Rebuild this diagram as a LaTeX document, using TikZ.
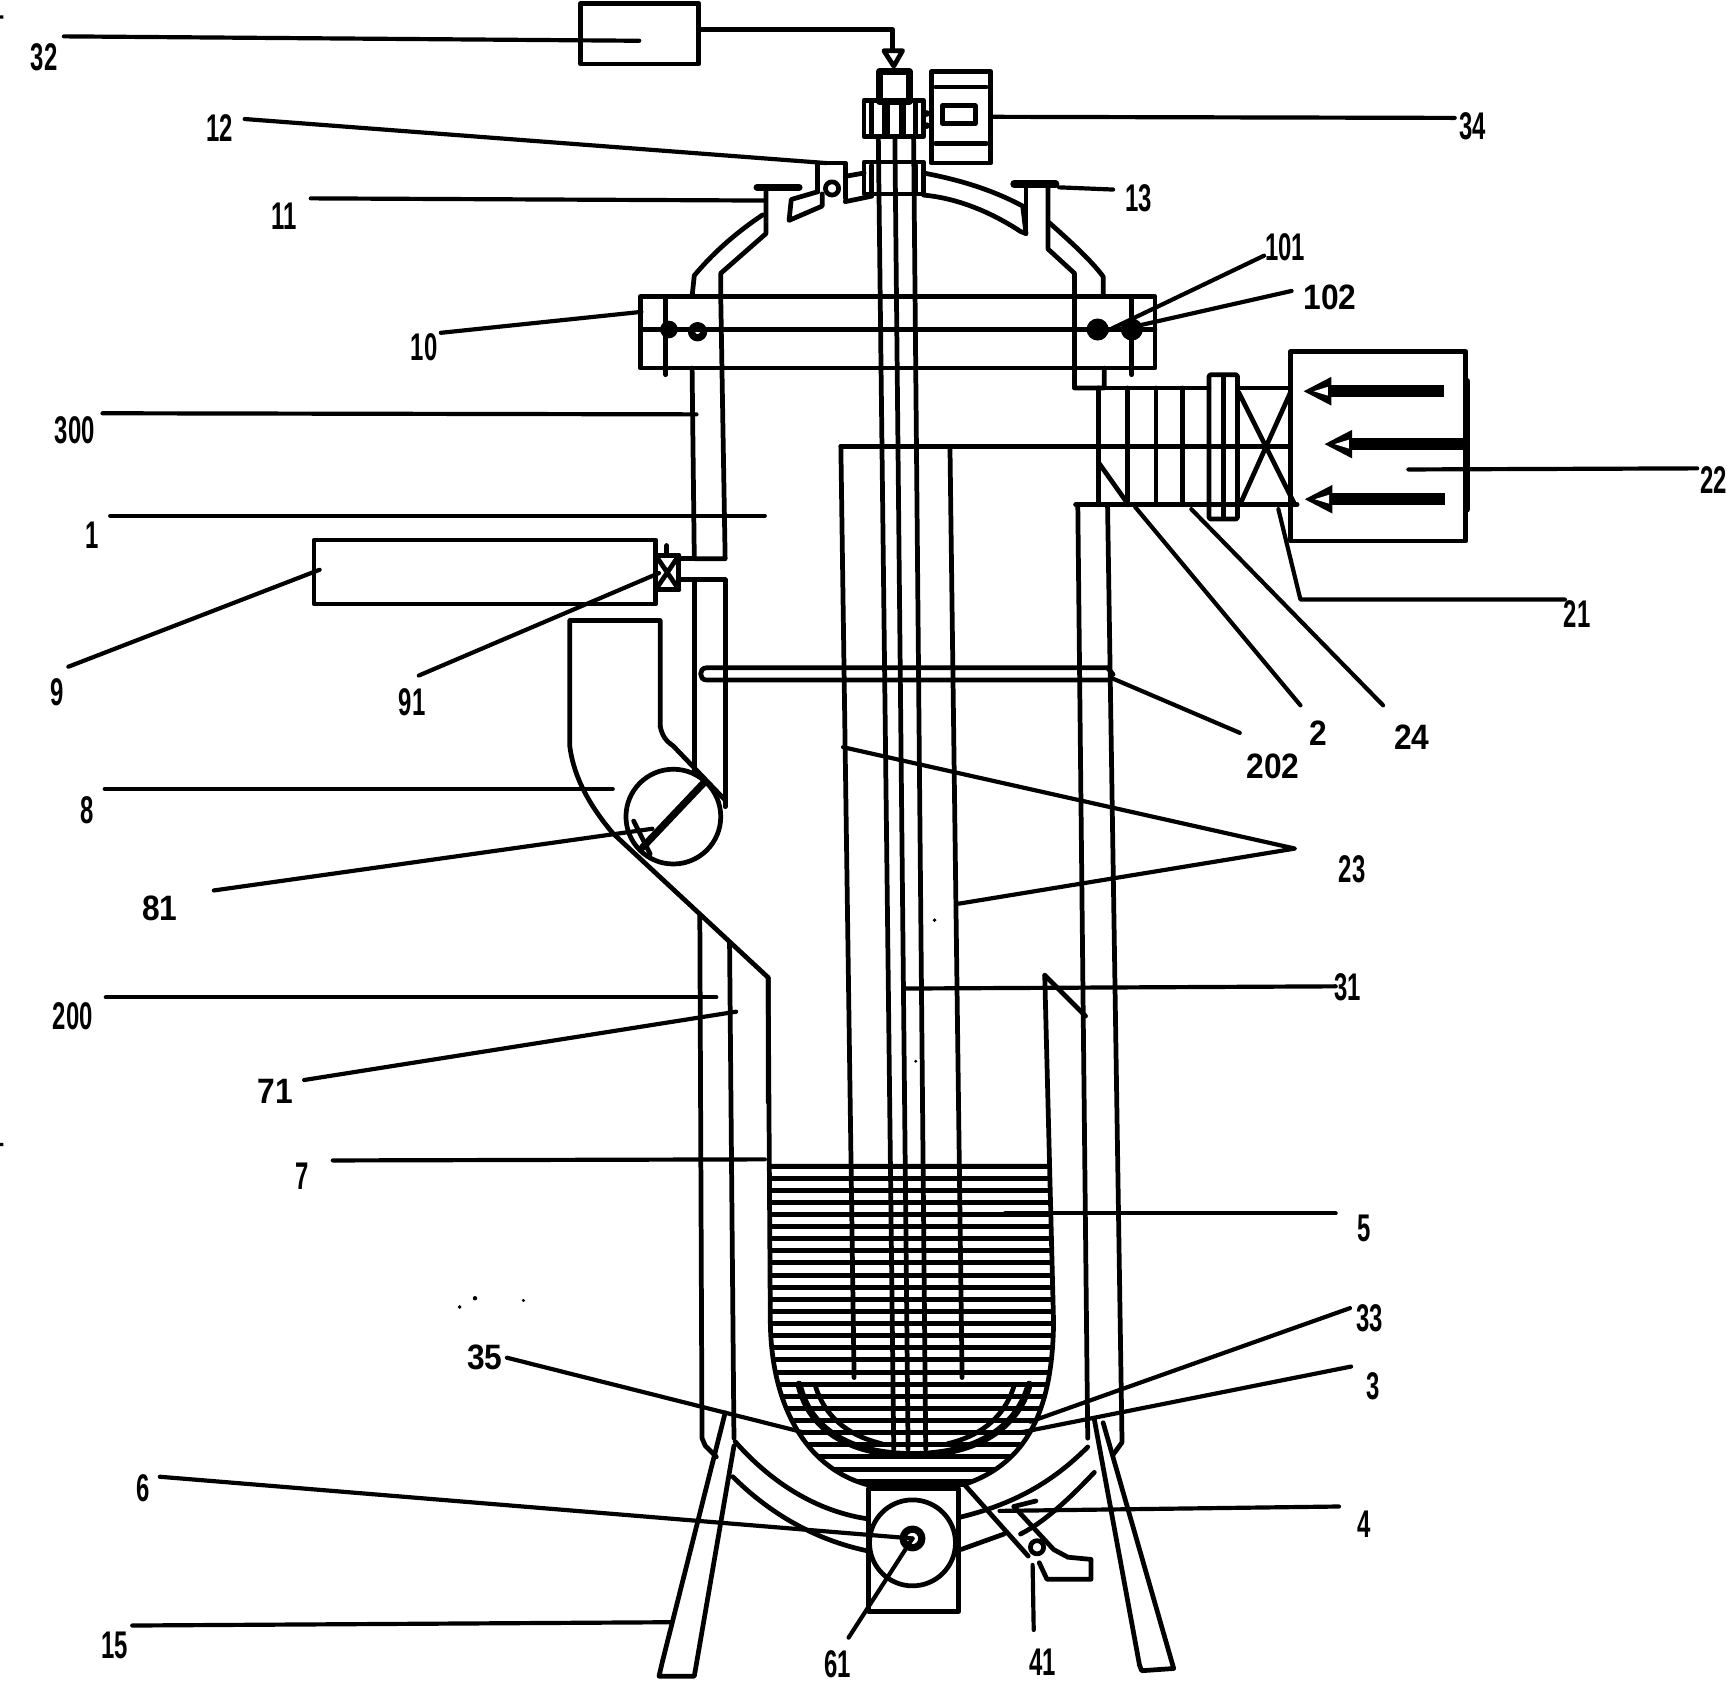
\documentclass[tikz,border=0pt]{standalone}
\usepackage{fontspec}
\setmainfont{Liberation Sans}
\tikzset{
  ln/.style={line width=4.3pt,line cap=round,line join=round,black},
  thk/.style={line width=6.5pt,line cap=round,line join=round,black},
  thin/.style={line width=3.6pt,line cap=round,line join=round,black},
  leader/.style={line width=3.8pt,line cap=round,line join=round,black},
  narrowlab/.style={font=\fontsize{35}{35}\bfseries,xscale=.62,inner sep=0pt},
  widelab/.style={font=\fontsize{32}{32}\bfseries,xscale=.9,inner sep=0pt},
}
\newcommand{\lead}[6]{% style, name, label pos, text, start, end
  \node[#1] (l#2) at (#3) {#4};
  \coordinate (s#2) at (#5);
  \coordinate (e#2) at (#6);
  \draw[leader] (s#2) -- (e#2);
}
\newcommand{\bigarrow}[4]{% tip x, y, base x, tail x
  \fill[black] (#1-2,#2) -- (#3+2,#2-13) -- (#3+2,#2+13) -- cycle;
  \draw[line width=10.5pt,black] (#3,#2) -- (#4,#2);
  \fill[white] (#1+7,#2) -- (#3-1,#2-4) -- (#3-1,#2+4) -- cycle;
}
\begin{document}
\begin{tikzpicture}[x=1pt,y=-1pt]
\useasboundingbox (0,0) rectangle (1568,1525);
\fill[white] (0,0) rectangle (1568,1525);

% --- liquid ---
\begin{scope}
\clip (697,1056) -- (699,1200) .. controls (700,1280) and (735,1335) .. (790,1348) -- (875,1347) .. controls (925,1330) and (955,1290) .. (956,1200) -- (952,1056) -- cycle;
\foreach \yy in {1058,1069,...,1350} \draw[line width=4.6pt,black] (690,\yy) -- (965,\yy);
\end{scope}

% --- inner vessel 7 ---
\draw[ln] (697,887) -- (699,1200) .. controls (700,1280) and (735,1335) .. (790,1348) -- (875,1347) .. controls (925,1330) and (955,1290) .. (956,1200) -- (948,885);
\draw[ln] (948,885) -- (985,922);

% --- central pipes ---
\draw[ln] (763,405) -- (775,1250);
\draw[ln] (862,405) -- (873,1250);
\draw[ln] (797,125) -- (811,1315);
\draw[ln] (812,125) -- (824,1315);
\draw[ln] (829,125) -- (840,1315);
\draw[ln] (763,405) -- (1171,405);

% --- ring 33/35 ---
\draw[thk] (725,1256) .. controls (735,1300) and (775,1320) .. (828,1320) .. controls (880,1320) and (922,1300) .. (934,1256);
\draw[ln] (740,1258) .. controls (750,1290) and (775,1304) .. (800,1310);
\draw[ln] (920,1258) .. controls (910,1290) and (885,1304) .. (860,1310);

% --- top: box 32 and feed ---
\draw[ln] (527,3) rectangle (634,58);
\draw[ln] (634,27) -- (810,27) -- (810,45);
\draw[ln] (802,46) -- (819,46) -- (811,60) -- cycle;
\draw[thk] (798,65) rectangle (825,92);
\draw[ln] (784,91) rectangle (838,124);
\draw[ln] (791,93) -- (791,122) (831,93) -- (831,122);
\draw[thk] (804,92) -- (804,122) (819,92) -- (819,122);
\draw[ln] (784,147) rectangle (838,176);
\draw[ln] (791,150) -- (791,174) (831,150) -- (831,174);

% --- instrument 34 ---
\draw[ln] (845,65) rectangle (899,148);
\draw[ln] (849,79) -- (895,79) (849,130) -- (895,130);
\draw[ln] (855,96) rectangle (885,112);
\fill[black] (841,103) circle[radius=3pt] (841,114) circle[radius=3pt];

% --- dome left ---
\draw[ln] (767,160) -- (784,157) (767,183) -- (791,178);
\draw[ln] (742,148) -- (767,148) -- (767,180) (742,148) -- (742,174);
\draw[ln] (755,171) circle[radius=6pt];
\draw[ln] (742,174) -- (718,181) -- (716,200) -- (746,187) -- (746,176);
\draw[thk] (687,170) -- (725,170);
\draw[ln] (695,172) -- (695,212) -- (654,248) -- (654,269);
\draw[ln] (692,195) .. controls (665,213) and (645,232) .. (630,250) -- (628,269);

% --- dome right ---
\draw[ln] (838,157) .. controls (870,163) and (900,172) .. (928,187) -- (931,212) -- (926,210) .. controls (900,193) and (870,180) .. (838,177);
\draw[thk] (920,167) -- (958,167);
\draw[ln] (931,170) -- (931,212);
\draw[ln] (951,170) -- (951,226) -- (975,248) -- (975,352) -- (1002,352) -- (1002,334);
\draw[ln] (952,202) .. controls (970,218) and (990,236) .. (1001,251) -- (1001,269);

% --- flange 10 ---
\draw[ln] (581,269) rectangle (1048,334);
\draw[ln] (581,299) -- (1048,299);
\draw[ln] (604,269) -- (604,340) (1027,269) -- (1027,340);
\fill[black] (607,299) circle[radius=8pt] (996,299) circle[radius=10pt] (1027,299) circle[radius=10pt];
\draw[thk] (633,301) circle[radius=5.5pt];

% --- upper jacket left ---
\draw[ln] (628,334) -- (630,507) -- (658,507) -- (654,269);
\draw[ln] (617,507) -- (630,507);
\draw[ln] (617,526) -- (658,526) -- (658,732);
\draw[ln] (630,526) -- (630,700);

% --- tank 9, valve 91 ---
\draw[ln] (285,490) rectangle (595,548);
\draw[ln] (595,504) rectangle (616,535);
\draw[ln] (595,504) -- (616,535) (616,504) -- (595,535);
\draw[ln] (605,495) -- (605,504);

% --- duct 8 and circle 81 ---
\draw[ln] (599,659) -- (599,563) -- (517,563) -- (517,677) .. controls (520,700) and (530,725) .. (556,756) -- (697,887) -- (697,1000);
\draw[ln] (599,659) .. controls (601,668) and (604,672) .. (611,677) -- (658,726);
\draw[ln] (611,741) circle[radius=43pt];
\draw[thk] (638,711) -- (583,769);
\draw[ln] (575,745) -- (590,775);

% --- lower jacket left ---
\draw[ln] (635,830) -- (637,1305) -- (640,1312) -- (650,1322);
\draw[ln] (662,855) -- (666,1305);
% --- right jacket ---
\draw[ln] (978,458) -- (987,1305);
\draw[ln] (1005,458) -- (1018,1300) -- (1018,1309) -- (1010,1320);

% --- jacket bottom ---
\draw[ln] (667,1308) .. controls (695,1340) and (735,1370) .. (786,1378);
\draw[ln] (665,1340) .. controls (690,1365) and (730,1395) .. (786,1407);
\draw[ln] (870,1377) .. controls (920,1365) and (955,1345) .. (987,1313);
\draw[ln] (872,1406) -- (911,1392);
\draw[ln] (926,1392) .. controls (950,1380) and (975,1355) .. (993,1336);

% --- pump 6 ---
\draw[ln] (788,1351) -- (788,1462) -- (870,1462) -- (870,1351);
\draw[thk] (790,1350) -- (868,1350);
\draw[ln] (828,1400) circle[radius=39pt];
\draw[thk] (828,1396) circle[radius=8.5pt];

% --- drain 41 ---
\draw[ln] (875,1347) -- (933,1412);
\draw[ln] (920,1367) -- (956,1406) -- (969,1413) -- (990,1415) -- (990,1433) -- (950,1433) -- (943,1418);
\draw[ln] (941,1404) circle[radius=6pt];
\draw[ln] (920,1367) -- (940,1362);

% --- 202 probe ---
\draw[ln] (1005,606) -- (641,606) .. controls (634,606) and (634,617) .. (641,617) -- (1005,617);
\draw[ln] (1005,606) -- (1010,612);

% --- side duct, filter 22 ---
\draw[ln] (975,352) -- (1097,352) (1123,352) -- (1171,352);
\draw[ln] (976,458) -- (1177,458);
\draw[ln] (997,352) -- (997,458) (1023,352) -- (1023,458) (1049,352) -- (1049,458) (1073,352) -- (1073,458);
\draw[ln] (997,420) -- (1024,458);
\draw[ln,rounded corners=2pt] (1097,340) rectangle (1123,471);
\draw[ln] (1110,342) -- (1110,469);
\draw[ln] (1124,356) -- (1174,456) (1171,356) -- (1126,456);
\draw[ln] (1171,319) rectangle (1330,491);
\draw[thk] (1331,346) -- (1331,462);
\bigarrow{1185}{355}{1206}{1310}
\bigarrow{1204}{403}{1225}{1328}
\bigarrow{1186}{453}{1207}{1311}

% --- legs ---
\draw[ln] (658,1282) -- (601,1508) -- (598,1521) -- (630,1521) -- (666,1312);
\draw[ln] (993,1288) -- (1034,1511) -- (1036,1516) -- (1065,1514) -- (1001,1291);

% --- leaders and labels ---
\lead{narrowlab}{32}{40,52}{32}{58,33}{580,37}
\lead{narrowlab}{12}{199,116}{12}{222,108}{750,148}
\lead{narrowlab}{11}{258,196}{11}{282,180}{695,182}
\lead{narrowlab}{13}{1033,180}{13}{961,170}{1010,172}
\lead{narrowlab}{34}{1336,115}{34}{900,106}{1320,107}
\lead{narrowlab}{10}{385,315}{10}{400,302}{582,283}
\lead{narrowlab}{300}{68,390}{300}{93,375}{632,376}
\lead{narrowlab}{1}{84,486}{1}{100,468}{694,468}
\lead{narrowlab}{9}{52,628}{9}{62,605}{290,517}
\lead{narrowlab}{91}{374,637}{91}{380,613}{598,520}
\lead{narrowlab}{8}{79,735}{8}{95,716}{556,716}
\lead{widelab}{81}{145,824}{81}{194,808}{592,752}
\lead{narrowlab}{200}{66,922}{200}{96,905}{650,905}
\lead{widelab}{71}{250,990}{71}{276,980}{668,918}
\lead{narrowlab}{7}{274,1067}{7}{302,1053}{694,1052}
\lead{narrowlab}{5}{1238,1115}{5}{912,1101}{1212,1101}
\lead{widelab}{35}{440,1232}{35}{460,1232}{730,1300}
\lead{narrowlab}{33}{1243,1196}{33}{1225,1187}{935,1290}
\lead{narrowlab}{3}{1246,1258}{3}{1226,1240}{925,1300}
\lead{narrowlab}{6}{130,1350}{6}{145,1340}{828,1396}
\lead{narrowlab}{61}{760,1510}{61}{828,1396}{770,1486}
\lead{narrowlab}{41}{946,1508}{41}{937,1420}{938,1479}
\lead{narrowlab}{4}{1238,1383}{4}{907,1371}{1215,1367}
\lead{narrowlab}{15}{104,1493}{15}{120,1475}{610,1472}
\lead{narrowlab}{101}{1166,224}{101}{1005,300}{1147,232}
\lead{widelab}{102}{1207,270}{102}{1035,295}{1172,264}
\lead{widelab}{2}{1196,665}{2}{1030,460}{1180,640}
\lead{widelab}{24}{1281,669}{24}{1081,462}{1255,640}
\lead{widelab}{202}{1155,695}{202}{1008,615}{1125,665}
\lead{narrowlab}{31}{1223,896}{31}{822,897}{1212,895}
\lead{narrowlab}{22}{1555,436}{22}{1278,426}{1540,425}

\node[narrowlab] (l21) at (1431,557) {21};
\coordinate (s21) at (1160,462);
\coordinate (b21) at (1180,544);
\coordinate (e21) at (1420,544);
\draw[leader] (s21) -- (b21) -- (e21);

\node[narrowlab] (l23) at (1227,789) {23};
\coordinate (a23) at (765,678);
\coordinate (b23) at (870,820);
\coordinate (c23) at (1175,770);
\draw[leader] (a23) -- (c23) -- (b23);

% --- specks ---
\fill[black] (848,835) circle[radius=1.8pt] (831,963) circle[radius=1.5pt] (417,1186) circle[radius=1.8pt] (431,1178) circle[radius=2pt] (475,1180) circle[radius=1.5pt];
\fill[black] (0,14) rectangle (3,17) (0,1037) rectangle (3,1040);
\end{tikzpicture}
\end{document}
